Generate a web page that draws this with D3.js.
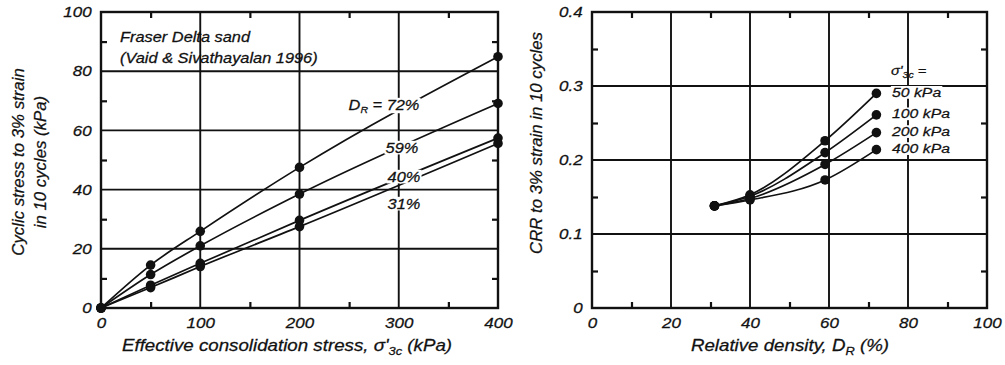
<!DOCTYPE html>
<html>
<head>
<meta charset="utf-8">
<script src="https://cdn.jsdelivr.net/npm/d3@7"></script>
<style>
  body { margin: 0; background: #fff; }
  svg { display: block; }
  text { font-family: "Liberation Sans", Arial, sans-serif; font-style: italic; fill: #111; stroke: #111; stroke-width: 0.25px; }
</style>
</head>
<body>
<svg id="chart" width="1005" height="365"></svg>
<script>
// Left panel: cyclic stress vs. effective consolidation stress
const stressLevels = [0, 50, 100, 200, 400];
const densityLabels = ["D_R = 72%", "59%", "40%", "31%"];
const dr72 = [0, 14.5, 25.9, 47.5, 84.9];
const dr59 = [0, 11.3, 21.0, 38.5, 69.1];
const dr40 = [0, 7.7, 15.1, 29.6, 57.4];
const dr31 = [0, 6.9, 14.0, 27.5, 55.6];
const leftXTicks = [0, 100, 200, 300, 400];
const leftYTicks = [0, 20, 40, 60, 80, 100];

// Right panel: CRR vs. relative density
const relDensity = [31, 40, 59, 72];
const crr50 = [0.138, 0.153, 0.226, 0.290];
const crr100 = [0.138, 0.151, 0.210, 0.261];
const crr200 = [0.138, 0.148, 0.194, 0.237];
const crr400 = [0.138, 0.146, 0.173, 0.214];
const pressureLabels = ["50 kPa", "100 kPa", "200 kPa", "400 kPa"];
const rightXTicks = [0, 20, 40, 60, 80, 100];
const rightYTicks = [0, 0.1, 0.2, 0.3, 0.4];

const svg = d3.select("#chart");
const ink = "#111";
const SX = 1.17; // horizontal widening of lettering

// text positioned at (x,y), widened horizontally about its anchor point
function sText(g, x, y, size, anchor) {
  return g.append("text")
    .attr("transform", `translate(${x},${y}) scale(${SX},1)`)
    .attr("text-anchor", anchor || "start")
    .attr("font-size", size);
}

function panel(opts) {
  const g = svg.append("g");
  const x = d3.scaleLinear().domain(opts.xDomain).range([opts.left, opts.right]);
  const y = d3.scaleLinear().domain(opts.yDomain).range([opts.bottom, opts.top]);

  // grid lines at major ticks
  g.append("g").selectAll("line").data(opts.xTicks.slice(1, -1)).join("line")
    .attr("x1", d => x(d)).attr("x2", d => x(d))
    .attr("y1", opts.top).attr("y2", opts.bottom)
    .attr("stroke", ink).attr("stroke-width", 1.9);
  g.append("g").selectAll("line").data(opts.yTicks.slice(1, -1)).join("line")
    .attr("y1", d => y(d)).attr("y2", d => y(d))
    .attr("x1", opts.left).attr("x2", opts.right)
    .attr("stroke", ink).attr("stroke-width", 1.9);

  // minor inward ticks on all four sides
  const xMinor = opts.xTicks.slice(0, -1).map((d, i) => (d + opts.xTicks[i + 1]) / 2);
  const yMinor = opts.yTicks.slice(0, -1).map((d, i) => (d + opts.yTicks[i + 1]) / 2);
  const tl = 6;
  const minor = g.append("g");
  minor.append("g").call(d3.axisBottom(x).tickValues(xMinor).tickSize(-tl).tickFormat(""))
    .attr("transform", `translate(0,${opts.bottom})`);
  minor.append("g").call(d3.axisTop(x).tickValues(xMinor).tickSize(-tl).tickFormat(""))
    .attr("transform", `translate(0,${opts.top})`);
  minor.append("g").call(d3.axisLeft(y).tickValues(yMinor).tickSize(-tl).tickFormat(""))
    .attr("transform", `translate(${opts.left},0)`);
  minor.append("g").call(d3.axisRight(y).tickValues(yMinor).tickSize(-tl).tickFormat(""))
    .attr("transform", `translate(${opts.right},0)`);
  minor.selectAll(".domain").remove();
  minor.selectAll(".tick line").attr("stroke", ink).attr("stroke-width", 2.2);

  // tick labels
  const xa = g.append("g").attr("transform", `translate(0,${opts.bottom})`)
    .call(d3.axisBottom(x).tickValues(opts.xTicks).tickSize(0).tickPadding(10).tickFormat(opts.xFmt));
  const ya = g.append("g").attr("transform", `translate(${opts.left},0)`)
    .call(d3.axisLeft(y).tickValues(opts.yTicks).tickSize(0).tickPadding(8).tickFormat(opts.yFmt));
  [xa, ya].forEach(a => {
    a.select(".domain").remove();
    a.selectAll("text").attr("font-size", 14.5).attr("fill", ink)
      .attr("transform", `scale(${SX},1)`)
      .style("font-family", "'Liberation Sans', Arial, sans-serif").style("font-style", "italic");
  });

  // frame
  g.append("rect").attr("x", opts.left).attr("y", opts.top)
    .attr("width", opts.right - opts.left).attr("height", opts.bottom - opts.top)
    .attr("fill", "none").attr("stroke", ink).attr("stroke-width", 2.4);
  return { g, x, y };
}

// curve label on a white patch so that lines behind it are interrupted
function labelWithBg(g, x, y, size, anchor, build) {
  const t = sText(g, x, y, size, anchor).attr("dominant-baseline", "middle");
  build(t);
  const b = t.node().getBBox();
  g.insert("rect", () => t.node())
    .attr("transform", `translate(${x},${y}) scale(${SX},1)`)
    .attr("x", b.x - 1).attr("y", b.y + 1).attr("width", b.width + 2).attr("height", b.height - 2)
    .attr("fill", "#fff");
  return t;
}

// ---------- left panel ----------
const L = panel({
  left: 101, right: 498, top: 12, bottom: 308,
  xDomain: [0, 400], yDomain: [0, 100],
  xTicks: leftXTicks, yTicks: leftYTicks,
  xFmt: d3.format("d"), yFmt: d3.format("d")
});

const leftSeries = [dr72, dr59, dr40, dr31];
const lineL = d3.line().x((d, i) => L.x(stressLevels[i])).y(d => L.y(d)).curve(d3.curveMonotoneX);
L.g.append("g").selectAll("path").data(leftSeries).join("path")
  .attr("d", d => lineL(d)).attr("fill", "none").attr("stroke", ink).attr("stroke-width", 1.7);

const labelPos = [[384, 106], [402, 149], [404, 178], [404, 205]];
densityLabels.forEach((lab, i) => {
  labelWithBg(L.g, labelPos[i][0], labelPos[i][1], 14, "middle", t => {
    if (lab.startsWith("D_R")) {
      t.append("tspan").text("D");
      t.append("tspan").text("R").attr("font-size", 9).attr("dy", 4);
      t.append("tspan").text(" = 72%").attr("dy", -4);
    } else {
      t.text(lab);
    }
  });
});

leftSeries.forEach(s => {
  L.g.append("g").selectAll("circle").data(s).join("circle")
    .attr("cx", (d, i) => L.x(stressLevels[i])).attr("cy", d => L.y(d))
    .attr("r", 4.8).attr("fill", ink);
});

sText(L.g, 120, 42, 14).text("Fraser Delta sand");
sText(L.g, 120, 63, 14).text("(Vaid & Sivathayalan 1996)");

// axis titles
const lxt = sText(svg, 287, 351, 16, "middle");
lxt.append("tspan").text("Effective consolidation stress, σ'");
lxt.append("tspan").text("3c").attr("font-size", 11).attr("dy", 4);
lxt.append("tspan").text(" (kPa)").attr("dy", -4);

svg.append("text").attr("transform", "translate(24,162) rotate(-90)")
  .attr("text-anchor", "middle").attr("font-size", 16.8).text("Cyclic stress to 3% strain");
svg.append("text").attr("transform", "translate(46,162) rotate(-90)")
  .attr("text-anchor", "middle").attr("font-size", 16.8).text("in 10 cycles (kPa)");

// ---------- right panel ----------
const R = panel({
  left: 592, right: 987, top: 12, bottom: 308,
  xDomain: [0, 100], yDomain: [0, 0.4],
  xTicks: rightXTicks, yTicks: rightYTicks,
  xFmt: d3.format("d"), yFmt: d => d === 0 ? "0" : d3.format(".1f")(d)
});

const rightSeries = [crr50, crr100, crr200, crr400];
const lineR = d3.line().x((d, i) => R.x(relDensity[i])).y(d => R.y(d)).curve(d3.curveMonotoneX);
R.g.append("g").selectAll("path").data(rightSeries).join("path")
  .attr("d", d => lineR(d)).attr("fill", "none").attr("stroke", ink).attr("stroke-width", 1.7);

// pressure labels beside the curve ends
const sig = sText(R.g, 891, 71, 12.5).attr("dominant-baseline", "middle");
sig.append("tspan").text("σ'");
sig.append("tspan").text("3c").attr("font-size", 9).attr("dy", 4);
sig.append("tspan").text(" =").attr("dy", -4);
pressureLabels.forEach((lab, i) => {
  labelWithBg(R.g, 892, R.y(rightSeries[i][3]), 13.5, "start", t => t.text(lab));
});

rightSeries.forEach(s => {
  R.g.append("g").selectAll("circle").data(s).join("circle")
    .attr("cx", (d, i) => R.x(relDensity[i])).attr("cy", d => R.y(d))
    .attr("r", 4.8).attr("fill", ink);
});

const rxt = sText(svg, 790, 351, 16, "middle");
rxt.append("tspan").text("Relative density, D");
rxt.append("tspan").text("R").attr("font-size", 11).attr("dy", 4);
rxt.append("tspan").text(" (%)").attr("dy", -4);

svg.append("text").attr("transform", "translate(542,143) rotate(-90)")
  .attr("text-anchor", "middle").attr("font-size", 16.8).text("CRR to 3% strain in 10 cycles");
</script>
</body>
</html>
